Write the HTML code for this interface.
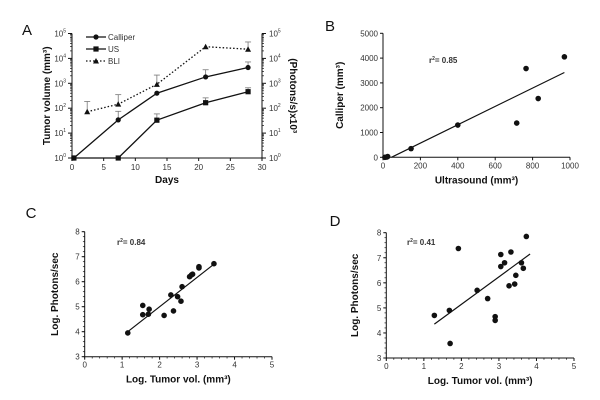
<!DOCTYPE html>
<html><head><meta charset="utf-8"><style>
body{margin:0;background:#fff}
svg{display:block;font-family:"Liberation Sans",Arial,sans-serif}
.tk{font-size:8px;fill:#333}
.ax{font-size:10px;font-weight:bold;fill:#111}
.pl{font-size:15px;fill:#111}
</style></head><body>
<svg id="fig" width="600" height="400" viewBox="0 0 600 400"></svg>
<script>
// Panel A data
const aDaysCal = [0.3, 7.3, 13.4, 21.1, 27.8];
const aCal = [1, 34, 400, 1800, 4300];
const aCalErr = [1, 75, 400, 3500, 7200];
const aDaysUS = [0.3, 7.3, 13.4, 21.1, 27.8];
const aUS = [1, 1, 33, 166, 460];
const aUSErr = [1, 1, 59, 260, 660];
const aDaysBLI = [2.4, 7.3, 13.4, 21.1, 27.8];
const aBLI = [72, 145, 910, 29500, 23400];
const aBLIErr = [186, 350, 2140, 29500, 45700];
const aXTicks = [0, 5, 10, 15, 20, 25, 30];
const aYTicks = [0, 1, 2, 3, 4, 5];
// Panel B data
const bX = [10, 20, 25, 150, 400, 715, 765, 830, 970];
const bY = [0, 10, 30, 350, 1300, 1380, 3580, 2370, 4050];
const bFit = [[45, 0], [970, 3420]];
const bXTicks = [0, 200, 400, 600, 800, 1000];
const bYTicks = [0, 1000, 2000, 3000, 4000, 5000];
// Panel C data
const cX = [1.15,1.55,1.55,1.72,1.7,2.12,2.3,2.37,2.48,2.57,2.6,2.8,2.85,2.88,3.05,3.05,3.45];
const cY = [3.95,5.05,4.68,4.9,4.7,4.65,5.47,4.83,5.4,5.22,5.8,6.2,6.27,6.3,6.55,6.6,6.72];
const cFit = [[1.15, 4.0], [3.45, 6.7]];
// Panel D data
const dX = [1.28,1.68,1.7,1.92,2.42,2.7,2.9,2.9,3.05,3.05,3.15,3.27,3.32,3.42,3.45,3.6,3.65,3.73];
const dY = [4.7,4.9,3.58,7.37,5.7,5.37,4.65,4.5,7.13,6.65,6.8,5.88,7.23,5.95,6.3,6.8,6.58,7.85];
const dFit = [[1.28, 4.35], [3.83, 7.15]];
const logXTicks = [0, 1, 2, 3, 4, 5];
const logYTicks = [3, 4, 5, 6, 7, 8];

const svg = document.getElementById('fig');
const NS = 'http://www.w3.org/2000/svg';
function el(tag, attrs, parent, text) {
  const e = document.createElementNS(NS, tag);
  for (const k in attrs) e.setAttribute(k, attrs[k]);
  if (text !== undefined) e.textContent = text;
  (parent || svg).appendChild(e);
  return e;
}
function group(name) {
  const g = el('g', {});
  
  
  return g;
}
function line(g, x1, y1, x2, y2, w, dash) {
  const a = {x1, y1, x2, y2, stroke: '#111', 'stroke-width': w || 1};
  if (dash) a['stroke-dasharray'] = dash;
  return el('line', a, g);
}
function txt(g, x, y, s, cls, anchor, name) {
  const t = el('text', {x, y, class: cls, 'text-anchor': anchor || 'middle'}, g, s);
  
  
  return t;
}
function dot(g, x, y, name) {
  const c = el('circle', {cx: x, cy: y, r: 2.8, fill: '#111'}, g);
  
  
}

// ===== Panel A =====
(function () {
  const g = group('panel-a');
  const X0 = 72, X1 = 262, Y0 = 158, Y1 = 33.5;
  const xs = d => X0 + (d / 30) * (X1 - X0);
  const ys = v => Y0 - (Math.log10(v) / 5) * (Y0 - Y1);
  txt(g, 27, 35, 'A', 'pl', 'middle', 'panel-label-a');
  line(g, X0, Y1, X0, Y0);
  line(g, X0, Y0, X1, Y0);
  line(g, X1, Y1, X1, Y0);
  aXTicks.forEach(t => {
    line(g, xs(t), Y0, xs(t), Y0 + 3);
    txt(g, xs(t), Y0 + 12, String(t), 'tk', 'middle', 'x-tick-label');
  });
  aYTicks.forEach(p => {
    const y = Y0 - (p / 5) * (Y0 - Y1);
    line(g, X0 - 4, y, X0, y);
    line(g, X1, y, X1 + 4, y);
    const l = txt(g, X0 - 6, y + 3, '10', 'tk', 'end', 'left-y-tick-label');
    el('tspan', {dy: -4, 'font-size': 5}, l, String(p));
    const r = txt(g, X1 + 7, y + 3, '10', 'tk', 'start', 'right-y-tick-label');
    el('tspan', {dy: -4, 'font-size': 5}, r, String(p));
    if (p < 5) for (let m = 2; m < 10; m++) {
      const ym = ys(Math.pow(10, p) * m);
      line(g, X0 - 2, ym, X0, ym, 0.7);
      line(g, X1, ym, X1 + 2, ym, 0.7);
    }
  });
  txt(g, 167, 183, 'Days', 'ax', 'middle', 'x-axis-title');
  const yl = txt(g, 0, 0, 'Tumor volume (mm³)', 'ax', 'middle', 'left-y-axis-title');
  yl.setAttribute('transform', 'translate(50,' + (Y0 + Y1) / 2 + ') rotate(-90)');
  const yr = txt(g, 0, 0, '(Photons/s)x10³', 'ax', 'middle', 'right-y-axis-title');
  yr.setAttribute('transform', 'translate(290,' + (Y0 + Y1) / 2 + ') rotate(90)');

  function series(days, vals, errs, dash, marker, name) {
    const sg = el('g', {}, g);
    
    
    for (let i = 0; i < days.length; i++) {
      if (errs[i] > vals[i]) {
        line(sg, xs(days[i]), ys(vals[i]), xs(days[i]), ys(errs[i]), 0.8).setAttribute('stroke', '#777');
        line(sg, xs(days[i]) - 3, ys(errs[i]), xs(days[i]) + 3, ys(errs[i]), 0.8).setAttribute('stroke', '#777');
      }
    }
    const pts = days.map((d, i) => xs(d) + ',' + ys(vals[i])).join(' ');
    const a = {points: pts, fill: 'none', stroke: '#111', 'stroke-width': 1.3};
    if (dash) a['stroke-dasharray'] = dash;
    el('polyline', a, sg);
    days.forEach((d, i) => marker(sg, xs(d), ys(vals[i])));
  }
  const circ = (p, x, y) => el('circle', {cx: x, cy: y, r: 2.6, fill: '#111'}, p);
  const sq = (p, x, y) => el('rect', {x: x - 2.6, y: y - 2.6, width: 5.2, height: 5.2, fill: '#111'}, p);
  const tri = (p, x, y) => el('polygon', {points: `${x},${y - 3} ${x - 3},${y + 2.5} ${x + 3},${y + 2.5}`, fill: '#111'}, p);
  series(aDaysBLI, aBLI, aBLIErr, '1.5,2', tri, 'series-bli');
  series(aDaysCal, aCal, aCalErr, null, circ, 'series-calliper');
  series(aDaysUS, aUS, aUSErr, null, sq, 'series-us');
  const lg = el('g', {}, g);
  
  
  [['Calliper', circ, null], ['US', sq, null], ['BLI', tri, '1.5,2']].forEach((e, i) => {
    const y = 37 + i * 12;
    const ln = line(lg, 86, y, 106, y, 1.3);
    if (e[2]) ln.setAttribute('stroke-dasharray', e[2]);
    e[1](lg, 96, y);
    txt(lg, 108, y + 3, e[0], 'tk', 'start', 'legend-entry');
  });
})();

function scatter(opts) {
  const g = group(opts.name);
  const {X0, X1, Y0, Y1, xmin, xmax, ymin, ymax} = opts;
  const xs = v => X0 + (v - xmin) / (xmax - xmin) * (X1 - X0);
  const ys = v => Y0 - (v - ymin) / (ymax - ymin) * (Y0 - Y1);
  txt(g, opts.lx, opts.ly, opts.label, 'pl', 'middle', 'panel-label');
  line(g, X0, Y1, X0, Y0);
  line(g, X0, Y0, X1, Y0);
  opts.xticks.forEach(t => {
    line(g, xs(t), Y0, xs(t), Y0 + 3);
    txt(g, xs(t), Y0 + 11, String(t), 'tk', 'middle', 'x-tick-label');
  });
  if (opts.minor) {
    for (let v = xmin; v <= xmax + 1e-9; v += opts.minor[0]) line(g, xs(v), Y0, xs(v), Y0 + 1.8, 0.7);
    for (let v = ymin; v <= ymax + 1e-9; v += opts.minor[1]) line(g, X0 - 1.8, ys(v), X0, ys(v), 0.7);
  }
  opts.yticks.forEach(t => {
    line(g, X0 - 3, ys(t), X0, ys(t));
    txt(g, X0 - 5, ys(t) + 3, String(t), 'tk', 'end', 'y-tick-label');
  });
  txt(g, (X0 + X1) / 2, Y0 + 26, opts.xtitle, 'ax', 'middle', 'x-axis-title');
  const yt = txt(g, 0, 0, opts.ytitle, 'ax', 'middle', 'y-axis-title');
  yt.setAttribute('transform', `translate(${opts.ytx},${(Y0 + Y1) / 2}) rotate(-90)`);
  const f = opts.fit;
  const fl = line(g, xs(f[0][0]), ys(f[0][1]), xs(f[1][0]), ys(f[1][1]), 1.2);
  
  
  opts.x.forEach((v, i) => dot(g, xs(v), ys(opts.y[i]), 'data-point'));
  const r = txt(g, opts.rx, opts.ry, 'r', 'tk', 'start', 'r-squared-label');
  r.setAttribute('font-weight', 'bold');
  el('tspan', {dy: -3, 'font-size': 5}, r, '2');
  el('tspan', {dy: 3}, r, '= ' + opts.r2);
}
scatter({name: 'panel-b', label: 'B', lx: 330, ly: 31, X0: 383, X1: 570, Y0: 157.3, Y1: 33.3,
  xmin: 0, xmax: 1000, ymin: 0, ymax: 5000, xticks: bXTicks, yticks: bYTicks,
  x: bX, y: bY, fit: bFit, xtitle: 'Ultrasound (mm³)', ytitle: 'Calliper (mm³)', ytx: 343,
  rx: 429, ry: 63, r2: '0.85'});
scatter({name: 'panel-c', label: 'C', lx: 31, ly: 218, X0: 84.7, X1: 272, Y0: 356.7, Y1: 231.7,
  xmin: 0, xmax: 5, ymin: 3, ymax: 8, xticks: logXTicks, yticks: logYTicks, minor: [0.2, 0.2],
  x: cX, y: cY, fit: cFit, xtitle: 'Log. Tumor vol. (mm³)', ytitle: 'Log. Photons/sec', ytx: 58,
  rx: 117, ry: 245, r2: '0.84'});
scatter({name: 'panel-d', label: 'D', lx: 335, ly: 226, X0: 386.3, X1: 574, Y0: 358, Y1: 232.7,
  xmin: 0, xmax: 5, ymin: 3, ymax: 8, xticks: logXTicks, yticks: logYTicks, minor: [0.2, 0.2],
  x: dX, y: dY, fit: dFit, xtitle: 'Log. Tumor vol. (mm³)', ytitle: 'Log. Photons/sec', ytx: 358,
  rx: 407, ry: 245, r2: '0.41'});
</script>
</body></html>
